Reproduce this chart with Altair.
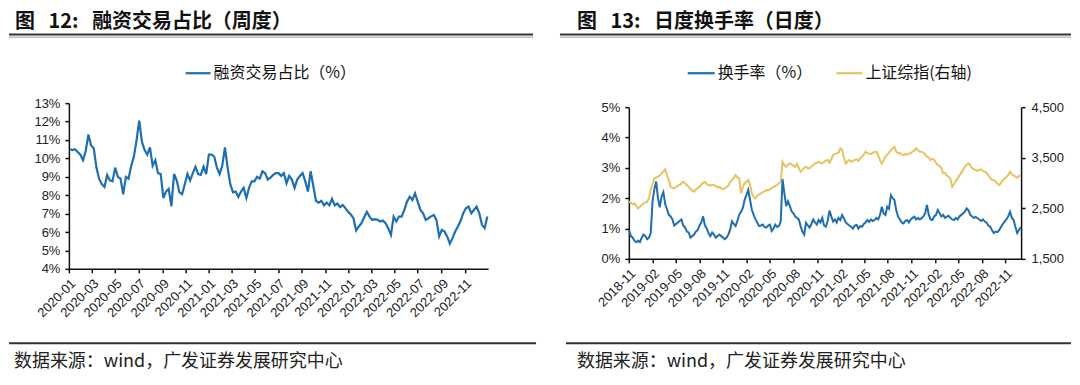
import altair as alt
import pandas as pd

# ---------------- data ----------------
left_dates = [d.strftime("%Y/%m/%d") for d in pd.date_range("2020-01-03", periods=157, freq="7D")]
margin_share = [
    10.5, 10.45, 10.5, 10.35, 10.2, 9.9, 10.4, 11.3, 10.7, 10.55,
    9.5, 8.9, 8.6, 8.45, 9.1, 8.8, 8.75, 9.5, 9.0, 8.9,
    8.05, 9.0, 8.9, 9.6, 10.1, 11.0, 12.05, 10.9, 10.45, 10.2,
    10.6, 9.6, 9.9, 9.2, 9.15, 7.85, 8.2, 8.35, 7.4, 9.15,
    8.8, 8.15, 8.05, 8.6, 9.15, 8.8, 9.2, 9.55, 9.15, 9.1,
    9.55, 9.15, 10.2, 10.2, 10.1, 9.5, 9.15, 9.6, 10.6, 9.5,
    8.6, 8.15, 8.2, 7.9, 8.2, 8.4, 7.85, 8.4, 8.75, 8.75,
    9.0, 8.9, 9.3, 9.2, 8.85, 8.95, 9.1, 9.2, 9.2, 9.05,
    9.2, 8.65, 9.05, 8.85, 8.4, 8.85, 9.05, 9.2, 8.75, 8.2,
    9.3, 8.5, 7.7, 7.6, 7.7, 7.45, 7.6, 7.45, 7.8, 7.45,
    7.55, 7.35, 7.47, 7.3, 7.1, 6.95, 6.75, 6.08, 6.3, 6.48,
    6.8, 7.1, 6.84, 6.66, 6.7, 6.66, 6.57, 6.62, 6.48, 6.2,
    5.85, 6.84, 6.57, 6.84, 6.84, 7.2, 7.65, 7.92, 7.74, 8.1,
    7.65, 7.2, 7.02, 6.66, 6.75, 6.85, 6.93, 6.66, 5.76, 6.12,
    6.03, 5.76, 5.37, 5.67, 6.03, 6.3, 6.6, 7.02, 7.29, 7.38,
    7.02, 7.2, 7.38, 7.02, 6.39, 6.21, 6.84,
]

right_dates = [d.strftime("%Y/%m/%d") for d in pd.date_range("2018-11-02", periods=218, freq="7D")]
turnover = [
    0.95, 0.75, 0.7, 0.6, 0.55, 0.6, 0.55, 0.7, 0.8, 0.75,
    0.65, 0.7, 0.85, 1.9, 2.3, 2.55, 2.0, 1.7, 2.06, 2.2,
    1.8, 1.64, 1.45, 1.4, 1.3, 1.1, 1.15, 1.2, 1.25, 1.3,
    1.1, 1.03, 0.9, 0.87, 0.7, 0.75, 0.8, 0.9, 0.95, 1.1,
    1.2, 1.4, 1.1, 1.0, 0.85, 0.75, 0.87, 0.8, 0.7, 0.75,
    0.8, 0.75, 0.7, 0.65, 0.7, 0.8, 0.97, 1.24, 1.15, 1.08,
    1.25, 1.46, 1.55, 1.68, 1.95, 2.1, 2.27, 1.95, 1.62, 1.45,
    1.3, 1.2, 1.08, 1.1, 1.13, 1.05, 1.03, 1.1, 1.13, 0.92,
    1.0, 1.13, 1.05, 1.08, 1.24, 2.63, 2.17, 1.74, 1.9, 1.75,
    1.57, 1.5, 1.4, 1.35, 1.3, 1.08, 0.9, 0.8, 1.19, 1.1,
    1.03, 1.15, 1.3, 1.2, 1.13, 1.28, 1.2, 1.35, 1.1, 1.06,
    1.25, 1.59, 1.4, 1.23, 1.3, 1.2, 1.35, 1.28, 1.45, 1.34,
    1.2, 1.15, 1.1, 1.06, 1.0, 1.1, 1.12, 1.0, 1.08, 1.06,
    1.15, 1.2, 1.28, 1.22, 1.3, 1.25, 1.28, 1.35, 1.3, 1.45,
    1.72, 1.5, 1.45, 1.72, 1.65, 2.1, 2.0, 1.94, 1.6, 1.39,
    1.3, 1.2, 1.17, 1.25, 1.28, 1.2, 1.3, 1.35, 1.39, 1.3,
    1.35, 1.3, 1.34, 1.4, 1.5, 1.78, 1.45, 1.3, 1.28, 1.4,
    1.45, 1.61, 1.5, 1.4, 1.45, 1.35, 1.39, 1.42, 1.35, 1.3,
    1.28, 1.35, 1.3, 1.4, 1.45, 1.5, 1.55, 1.66, 1.6, 1.45,
    1.4, 1.35, 1.38, 1.34, 1.3, 1.25, 1.3, 1.23, 1.2, 1.1,
    1.06, 0.95, 0.85, 0.9, 0.88, 0.95, 1.05, 1.15, 1.23, 1.3,
    1.4, 1.55, 1.35, 1.28, 1.05, 0.85, 0.95, 1.05,
]
sh_index = [
    2640, 2610, 2580, 2600, 2540, 2500, 2530, 2570, 2590, 2610,
    2631, 2700, 2862, 2980, 3092, 3110, 3125, 3150, 3190, 3230,
    3270, 3158, 3050, 2927, 2900, 2895, 2920, 2950, 2960, 3000,
    3026, 2990, 2960, 2927, 2880, 2850, 2829, 2870, 2900, 2927,
    2970, 3006, 3020, 2980, 2960, 2950, 2960, 2960, 2940, 2910,
    2927, 2900, 2880, 2895, 2920, 2950, 3026, 3060, 3100, 3158,
    3110, 3092, 2796, 2920, 3000, 3026, 3060, 2960, 2796, 2720,
    2697, 2750, 2770, 2796, 2820, 2830, 2862, 2850, 2880, 2900,
    2927, 2940, 2960, 2993, 3026, 3421, 3360, 3322, 3360, 3388,
    3370, 3340, 3322, 3380, 3300, 3224, 3260, 3300, 3322, 3290,
    3290, 3330, 3350, 3388, 3400, 3421, 3400, 3388, 3420, 3440,
    3454, 3400, 3470, 3553, 3570, 3586, 3600, 3684, 3651, 3500,
    3388, 3430, 3454, 3420, 3440, 3454, 3470, 3440, 3487, 3520,
    3560, 3618, 3590, 3586, 3570, 3600, 3610, 3618, 3550, 3450,
    3388, 3450, 3520, 3560, 3600, 3651, 3690, 3717, 3620, 3586,
    3600, 3560, 3553, 3570, 3560, 3586, 3590, 3620, 3650, 3684,
    3650, 3618, 3620, 3600, 3560, 3520, 3500, 3454, 3480, 3454,
    3400, 3355, 3340, 3290, 3191, 3200, 3150, 3125, 3080, 2927,
    2980, 3040, 3092, 3150, 3200, 3257, 3320, 3360, 3388, 3350,
    3290, 3270, 3260, 3240, 3257, 3270, 3240, 3224, 3200, 3150,
    3100, 3060, 3060, 3030, 2990, 2960, 3000, 3050, 3092, 3120,
    3160, 3224, 3180, 3150, 3125, 3100, 3140, 3158,
]

NB = "\u00a0"
left_title = "图" + NB * 3 + "12:" + NB * 3 + "融资交易占比（周度）"
right_title = "图" + NB * 3 + "13:" + NB * 3 + "日度换手率（日度）"
left_legend = "融资交易占比（%）"
right_legend = ["换手率（%）", "上证综指(右轴)"]
source = "数据来源：wind，广发证券发展研究中心"
left_ticks = [(2020 + (m - 1) // 12, (m - 1) % 12 + 1) for m in range(1, 37, 2)]
right_ticks = [(2018 + (m - 1) // 12, (m - 1) % 12 + 1) for m in range(11, 60, 3)]

# ---------------- style ----------------
BLUE = "#1F6FAF"
YELLOW = "#E6C35E"
AX = "Liberation Sans"
CJK = "Noto Sans CJK SC"
ONE = pd.DataFrame({"k": [0]})


def rule(x1, x2, y, color="#333333", width=2.0, opacity=1.0):
    return alt.Chart(ONE).mark_rule(color=color, strokeWidth=width, strokeOpacity=opacity).encode(
        x=alt.value(x1), x2=alt.value(x2), y=alt.value(y))


def label(s, x, y, size, weight="normal", baseline="alphabetic", color="#111111"):
    return alt.Chart(ONE).mark_text(text=s, align="left", baseline=baseline, font=CJK,
                                    fontSize=size, fontWeight=weight, color=color).encode(
        x=alt.value(x), y=alt.value(y))


axis_common = dict(domainColor="#111111", domainWidth=1.5, tickColor="#111111", tickWidth=1.5,
                   tickSize=4, labelFont=AX, labelFontSize=13, labelColor="#222222",
                   grid=False, title=None, labelOverlap=False)
x_axis_extra = dict(format="%Y-%m", labelAngle=-45, labelAlign="right",
                    labelBaseline="top", labelPadding=4)

# ---------------- left panel ----------------
left_df = pd.DataFrame({"date": left_dates, "share": margin_share})
left_line = alt.Chart(left_df).mark_line(color=BLUE, strokeWidth=2.2).encode(
    x=alt.X("date:T",
            scale=alt.Scale(domain=[alt.DateTime(year=2020, month=1, date=1),
                                    alt.DateTime(year=2023, month=1, date=1)]),
            axis=alt.Axis(values=[alt.DateTime(year=y, month=m, date=1) for y, m in left_ticks],
                          **x_axis_extra, **axis_common)),
    y=alt.Y("share:Q", scale=alt.Scale(domain=[4, 13], nice=False, zero=False),
            axis=alt.Axis(values=list(range(4, 14)), labelExpr="datum.value + '%'",
                          labelPadding=5, **axis_common)),
)

left = alt.layer(
    rule(-60, -59, -95, opacity=0.0),
    rule(-60, -59, 268, opacity=0.0),
    label(left_title, -54, -75.5, 20, weight="bold"),
    rule(-60, 465, -68.7, "#333333", 2.0),
    rule(-60, 465, -66.2, "#999999", 1.0),
    rule(117, 142, -30, BLUE, 2.2),
    label(left_legend, 145, -30, 16, baseline="middle"),
    left_line,
    rule(-60, 468, 240.5, "#333333", 2.0),
    label(source, -55, 264, 18, color="#222222"),
).properties(width=420, height=166)

# ---------------- right panel ----------------
right_df = pd.DataFrame({"date": right_dates, "turnover": turnover, "index": sh_index})
xr = alt.X("date:T",
           scale=alt.Scale(domain=[alt.DateTime(year=2018, month=11, date=1),
                                   alt.DateTime(year=2022, month=12, date=31)]),
           axis=alt.Axis(values=[alt.DateTime(year=y, month=m, date=1) for y, m in right_ticks],
                         **x_axis_extra, **axis_common))

idx_line = alt.Chart(right_df).mark_line(color=YELLOW, strokeWidth=2.0).encode(
    x=xr,
    y=alt.Y("index:Q", scale=alt.Scale(domain=[1500, 4500], range=[156, 4], nice=False, zero=False),
            axis=alt.Axis(values=[1500, 2500, 3500, 4500], format=",.0f", orient="right",
                          labelPadding=6, **axis_common)),
)
turn_line = alt.Chart(right_df).mark_line(color=BLUE, strokeWidth=2.0).encode(
    x=xr,
    y=alt.Y("turnover:Q", scale=alt.Scale(domain=[0, 5], range=[156, 4], nice=False),
            axis=alt.Axis(values=[0, 1, 2, 3, 4, 5], labelExpr="datum.value + '%'",
                          orient="left", labelPadding=5, **axis_common)),
)

right = alt.layer(
    label(right_title, -52, -75.5, 20, weight="bold"),
    rule(-69, 443, -68.7, "#333333", 2.0),
    rule(-69, 443, -66.2, "#999999", 1.0),
    rule(59, 86, -30, BLUE, 2.2),
    label(right_legend[0], 89, -30, 16, baseline="middle"),
    rule(208, 234, -30, YELLOW, 2.2),
    label(right_legend[1], 237, -30, 16, baseline="middle"),
    idx_line,
    turn_line,
    rule(-63, 443, 240.5, "#333333", 2.0),
    label(source, -52, 264, 18, color="#222222"),
).resolve_scale(y="independent").properties(width=393, height=156)

chart = alt.hconcat(left, right, spacing=141, bounds="flush").properties(
    padding=0, background="white"
).configure_view(stroke=None)

chart.save("out.html", embed_options={"renderer": "svg", "actions": False})
